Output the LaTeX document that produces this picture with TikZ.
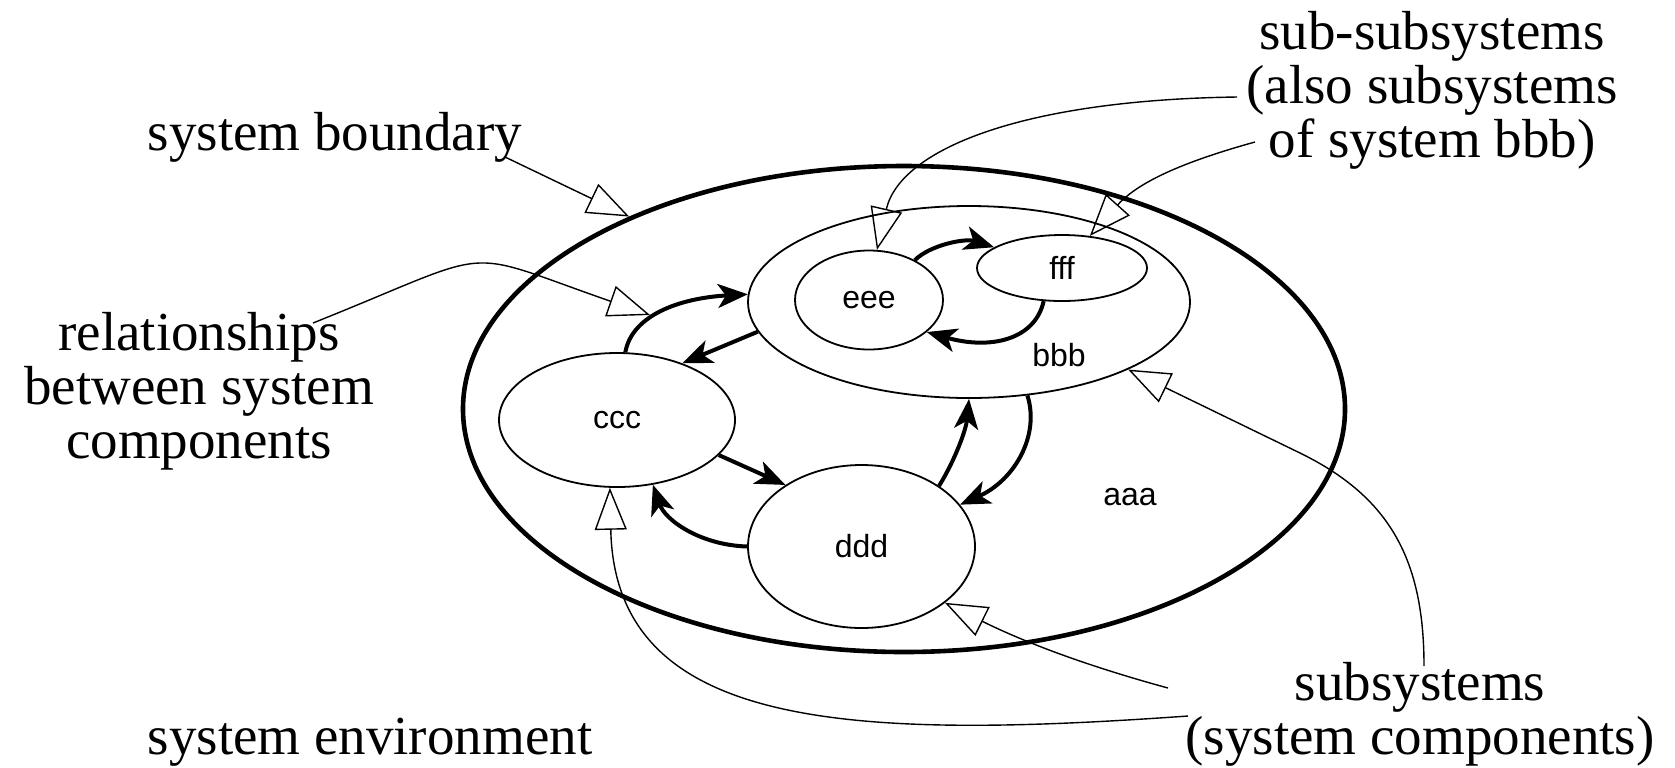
\documentclass[tikz,border=0pt]{standalone}
\usepackage{fontspec}
\setmainfont{Liberation Serif}
\newfontfamily\partsans{Liberation Sans}
\usetikzlibrary{arrows.meta,shapes.geometric}

\begin{document}
\begin{tikzpicture}[x=0.5pt,y=-0.5pt,
  part/.style={ellipse, draw, line width=0.9pt, inner sep=0pt,
    font=\partsans\fontsize{16}{16}\selectfont},
  boundary/.style={ellipse, draw, line width=2.3pt, inner sep=0pt},
  tag/.style={inner sep=0pt, font=\partsans\fontsize{16}{16}\selectfont},
  note/.style={inner sep=0pt, align=center,
    font=\fontsize{27.5}{27}\selectfont},
  flow/.style={line width=2pt,
    -{Stealth[length=15pt,width=12pt,inset=4pt]}},
  callout/.style={line width=0.7pt,
    -{Triangle[open,length=21pt,width=16pt,line width=0.7pt]}}
]
\fill[white] (0,0) rectangle (1675,767);
\useasboundingbox (0,0) rectangle (1675,767);

% system and its parts
\node[boundary, minimum width=441pt, minimum height=243pt] (aaa) at (904,409) {};
\node[part, minimum width=221pt, minimum height=96pt] (bbb) at (969,302) {};
\node[part, minimum width=74pt, minimum height=49.5pt] (eee) at (869,300) {eee};
\node[part, minimum width=85pt, minimum height=33pt] (fff) at (1062,268) {fff};
\node[part, minimum width=118pt, minimum height=67pt] (ccc) at (617,420) {ccc};
\node[part, minimum width=113.5pt, minimum height=81.5pt] (ddd) at (861.5,546.5) {ddd};
\node[tag] (bbbtag) at (1059,355) {bbb};
\node[tag] (aaatag) at (1130,497) {aaa};

% explanatory labels
\node[note, anchor=base] (bnd) at (335,150) {system boundary};
\node[note] (rel) at (199,391) {relationships\\between system\\components};
\node[note] (subsub) at (1432,90) {sub-subsystems\\(also subsystems\\of system bbb)};
\node[note] (subs) at (1420,714) {subsystems\\(system components)};
\node[note, anchor=base] (env) at (370,754) {system environment};

% free ends of the label pointers
\coordinate (bndS) at (505,157);
\coordinate (relS) at (313,323);
\coordinate (relT) at (650,315);
\coordinate (ssA) at (1237,97);
\coordinate (ssB) at (1255,142);
\coordinate (subA) at (1424,666);
\coordinate (subB) at (1168,688);
\coordinate (subC) at (1188,716);
\coordinate (bend) at (1300,453);

% relationships between components
\draw[flow] (ccc.83) .. controls (632,315) and (680,298) .. (bbb.178);
\draw[flow] (bbb.188) -- (ccc.41);
\draw[flow] (eee.41) .. controls (930,245) and (965,238) .. (fff.163);
\draw[flow] (fff.241) .. controls (1035,340) and (990,350) .. (eee.-29);
\draw[flow] (ccc.-19) -- (ddd.141);
\draw[flow] (ddd.180) .. controls (700,545) and (665,520) .. (ccc.-61);
\draw[flow] (ddd.38) .. controls (955,460) and (966,430) .. (bbb.270);
\draw[flow] (bbb.-58) .. controls (1040,435) and (1015,480) .. (ddd.23);

% label pointers
\draw[callout] (bndS) -- (aaa.145.5);
\draw[callout] (relS) .. controls (503,247) and (455,247) .. (relT);
\draw[callout] (ssA) .. controls (1020,100) and (900,150) .. (eee.81);
\draw[callout] (ssB) .. controls (1190,160) and (1140,180) .. (fff.49);
\draw[callout] (subA) .. controls (1424,560) and (1390,497) .. (bend) -- (bbb.-23);
\draw[callout] (subB) .. controls (1080,664) and (1020,640) .. (ddd.-34.5);
\draw[callout] (subC) .. controls (850,740) and (615,730) .. (ccc.-96);
\end{tikzpicture}
\end{document}
